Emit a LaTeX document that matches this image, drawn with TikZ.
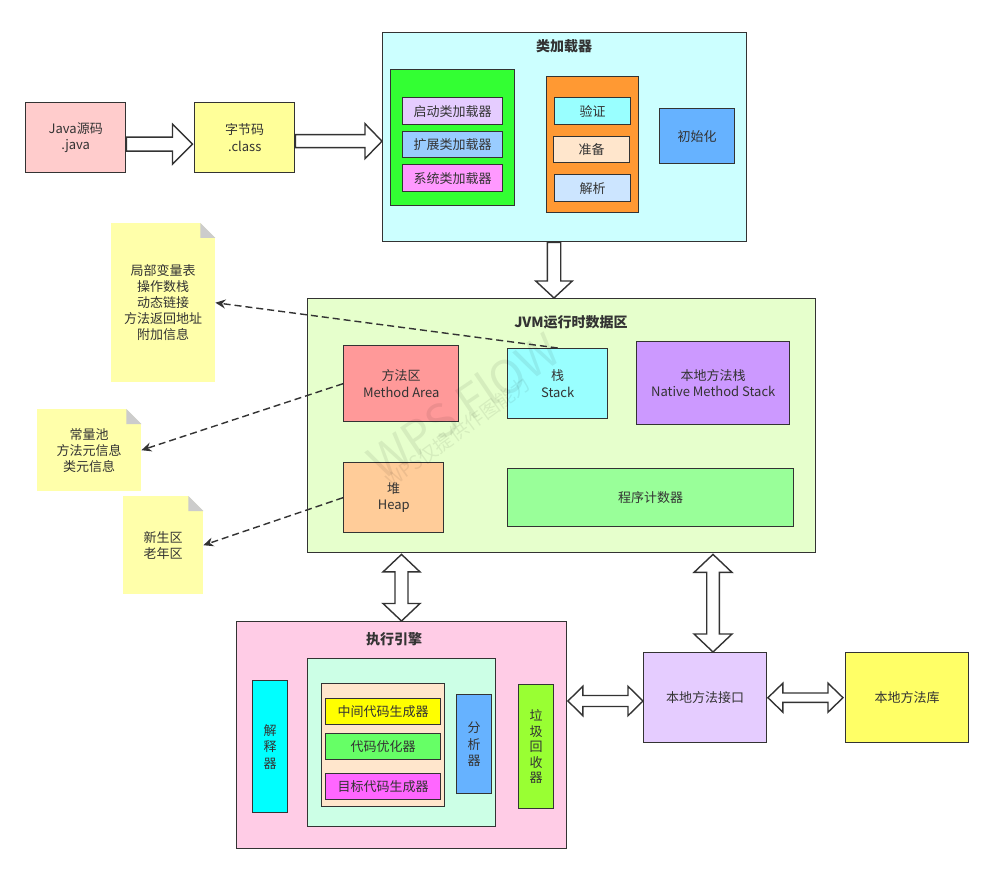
\documentclass[tikz,border=0pt]{standalone}
\usepackage{fontspec}
\setmainfont{Noto Sans CJK SC}
\usetikzlibrary{arrows.meta,calc}
\definecolor{txt}{HTML}{333333}
\definecolor{cJava}{HTML}{FFCCCC}
\definecolor{cByte}{HTML}{FFFF99}
\definecolor{cCL}{HTML}{CCFFFF}
\definecolor{cGreen}{HTML}{33FF33}
\definecolor{cBoot}{HTML}{E5CCFF}
\definecolor{cExt}{HTML}{99CCFF}
\definecolor{cSys}{HTML}{FF99FF}
\definecolor{cOrange}{HTML}{FF9933}
\definecolor{cVerify}{HTML}{99FFFF}
\definecolor{cPrep}{HTML}{FFE6CC}
\definecolor{cResolve}{HTML}{CCE5FF}
\definecolor{cInit}{HTML}{66B2FF}
\definecolor{cJVM}{HTML}{E6FFCC}
\definecolor{cMA}{HTML}{FF9999}
\definecolor{cStack}{HTML}{99FFFF}
\definecolor{cNMS}{HTML}{CC99FF}
\definecolor{cHeap}{HTML}{FFCC99}
\definecolor{cPC}{HTML}{99FF99}
\definecolor{cExec}{HTML}{FFCCE6}
\definecolor{cMint}{HTML}{CCFFE6}
\definecolor{cPeach}{HTML}{FFE6CC}
\definecolor{cMid}{HTML}{FFFF00}
\definecolor{cOpt}{HTML}{66FF66}
\definecolor{cTgt}{HTML}{FF66FF}
\definecolor{cAna}{HTML}{66B2FF}
\definecolor{cInterp}{HTML}{00FFFF}
\definecolor{cGC}{HTML}{99FF33}
\definecolor{cNI}{HTML}{E5CCFF}
\definecolor{cLib}{HTML}{FFFF66}
\definecolor{cNote}{HTML}{FFFFAA}
\definecolor{cFold}{HTML}{CCCCCC}
\tikzset{
  box/.style={draw=txt, line width=1.4pt, fill=#1, anchor=north west, inner sep=0pt,
    text=txt, font=\fontsize{13}{16.5}\selectfont, align=center},
  notebox/.style={fill=cNote, anchor=north west, inner sep=0pt,
    text=txt, font=\fontsize{13}{16}\selectfont, align=center},
  titletext/.style={text=txt, font=\fontsize{14}{16}\selectfont\bfseries, inner sep=0pt},
  barrow/.style={draw=txt, line width=1.4pt, fill=white, line join=miter},
  dasharrow/.style={draw=txt, line width=1.4pt, dash pattern=on 7pt off 4pt,
    -{Stealth[length=10pt,width=9pt]}},
  wmark/.style={text=black, text opacity=0.07, inner sep=0pt}
}
% horizontal single block arrow: start, end, shaft half, head half, head length
\newcommand\HArrowR[5]{%
  \draw[barrow] let \p1=(#1), \p2=(#2) in
    (\x1,\y1+#3) -- (\x2-#5,\y1+#3) -- (\x2-#5,\y1+#4) -- (\x2,\y1)
    -- (\x2-#5,\y1-#4) -- (\x2-#5,\y1-#3) -- (\x1,\y1-#3) -- cycle;}
% horizontal double block arrow
\newcommand\HArrowD[5]{%
  \draw[barrow] let \p1=(#1), \p2=(#2) in
    (\x1,\y1) -- (\x1+#5,\y1+#4) -- (\x1+#5,\y1+#3) -- (\x2-#5,\y1+#3)
    -- (\x2-#5,\y1+#4) -- (\x2,\y1) -- (\x2-#5,\y1-#4) -- (\x2-#5,\y1-#3)
    -- (\x1+#5,\y1-#3) -- (\x1+#5,\y1-#4) -- cycle;}
% vertical single block arrow (downwards)
\newcommand\VArrowDown[5]{%
  \draw[barrow] let \p1=(#1), \p2=(#2) in
    (\x1-#3,\y1) -- (\x1-#3,\y2+#5) -- (\x1-#4,\y2+#5) -- (\x1,\y2)
    -- (\x1+#4,\y2+#5) -- (\x1+#3,\y2+#5) -- (\x1+#3,\y1) -- cycle;}
% vertical double block arrow
\newcommand\VArrowD[5]{%
  \draw[barrow] let \p1=(#1), \p2=(#2) in
    (\x1,\y1) -- (\x1+#4,\y1-#5) -- (\x1+#3,\y1-#5) -- (\x1+#3,\y2+#5)
    -- (\x1+#4,\y2+#5) -- (\x1,\y2) -- (\x1-#4,\y2+#5) -- (\x1-#3,\y2+#5)
    -- (\x1-#3,\y1-#5) -- (\x1-#4,\y1-#5) -- cycle;}
% folded corner of a note
\newcommand\NoteFold[1]{%
  \fill[white] (#1.north east) -- ++(-15,0) -- ++(15,15) -- cycle;
  \fill[cFold] ($(#1.north east)+(-15,0)$) -- ++(0,15) -- ++(15,0) -- cycle;}

\begin{document}
\begin{tikzpicture}[x=1pt,y=-1pt]
\useasboundingbox[fill=white] (0,0) rectangle (993,874);

% ---------- source and bytecode ----------
\node[box=cJava, minimum width=100pt, minimum height=70pt] (java) at (25,102) {Java源码\\.java};
\node[box=cByte, minimum width=100pt, minimum height=70pt] (byte) at (194,102) {字节码\\.class};

% ---------- class loader ----------
\node[box=cCL, minimum width=364pt, minimum height=209pt] (cl) at (382,32) {};
\node[titletext] (clt) at (564,46) {类加载器};
\node[box=cGreen, minimum width=124pt, minimum height=136pt] (loaders) at (390,69) {};
\node[box=cBoot, minimum width=100pt, minimum height=27pt] (boot) at (402,97) {启动类加载器};
\node[box=cExt, minimum width=100pt, minimum height=26pt] (ext) at (402,131) {扩展类加载器};
\node[box=cSys, minimum width=100pt, minimum height=27pt] (sys) at (402,164) {系统类加载器};
\node[box=cOrange, minimum width=92pt, minimum height=136pt] (link) at (546,76) {};
\node[box=cVerify, minimum width=76pt, minimum height=27pt] (verify) at (554,97) {验证};
\node[box=cPrep, minimum width=76pt, minimum height=26pt] (prep) at (553,136) {准备};
\node[box=cResolve, minimum width=76pt, minimum height=27pt] (resolve) at (554,174) {解析};
\node[box=cInit, minimum width=75pt, minimum height=55pt] (init) at (659,108) {初始化};

% ---------- JVM runtime data area ----------
\node[box=cJVM, minimum width=508pt, minimum height=254pt] (jvm) at (307,298) {};
\node[titletext] (jvmt) at (571,322) {JVM运行时数据区};
\node[box=cMA, minimum width=115pt, minimum height=76pt] (ma) at (343,345) {方法区\\Method Area};
\node[box=cStack, minimum width=100pt, minimum height=70pt] (stack) at (507,348) {栈\\Stack};
\node[box=cNMS, minimum width=153pt, minimum height=83pt] (nms) at (636,341) {本地方法栈\\Native Method Stack};
\node[box=cHeap, minimum width=100pt, minimum height=70pt] (heap) at (343,462) {堆\\Heap};
\node[box=cPC, minimum width=286pt, minimum height=58pt] (pc) at (507,468) {程序计数器};

% ---------- notes ----------
\node[notebox, minimum width=104pt, minimum height=159pt] (note1) at (111,223)
  {局部变量表\\操作数栈\\动态链接\\方法返回地址\\附加信息};
\NoteFold{note1}
\node[notebox, minimum width=104pt, minimum height=82pt] (note2) at (37,409)
  {常量池\\方法元信息\\类元信息};
\NoteFold{note2}
\node[notebox, minimum width=80pt, minimum height=98pt] (note3) at (123,496)
  {新生区\\老年区};
\NoteFold{note3}

% ---------- execution engine ----------
\node[box=cExec, minimum width=330pt, minimum height=227pt] (exec) at (236,621) {};
\node[titletext] (exect) at (394,639) {执行引擎};
\node[box=cMint, minimum width=188pt, minimum height=168pt] (jit) at (307,658) {};
\node[box=cPeach, minimum width=123pt, minimum height=123pt] (comp) at (321,683) {};
\node[box=cMid, minimum width=115pt, minimum height=26pt] (mid) at (325,698) {中间代码生成器};
\node[box=cOpt, minimum width=115pt, minimum height=26pt] (opt) at (325,733) {代码优化器};
\node[box=cTgt, minimum width=115pt, minimum height=26pt] (tgt) at (325,773) {目标代码生成器};
\node[box=cAna, minimum width=35pt, minimum height=99pt] (ana) at (456,694) {分\\析\\器};
\node[box=cInterp, minimum width=35pt, minimum height=132pt] (interp) at (252,680) {解\\释\\器};
\node[box=cGC, minimum width=35pt, minimum height=124pt, font=\fontsize{13}{15.5}\selectfont] (gc) at (518,684) {垃\\圾\\回\\收\\器};

% ---------- native ----------
\node[box=cNI, minimum width=123pt, minimum height=90pt] (ni) at (643,652) {本地方法接口};
\node[box=cLib, minimum width=123pt, minimum height=90pt] (lib) at (845,652) {本地方法库};

% ---------- watermark ----------
\node[wmark, rotate=34, font=\fontsize{46}{50}\selectfont] (wm1) at (463,405) {WPS FlOW};
\node[wmark, rotate=36, font=\fontsize{19}{22}\selectfont] (wm2) at (458,432) {WPS仅提供作图能力};

% ---------- block arrows ----------
\HArrowR{$(java.east)+(0,6.5)$}{$(byte.west)+(-1.5,0)$}{7pt}{20pt}{20pt}
\HArrowR{$(byte.east)+(0,3.5)$}{cl.west}{6.5pt}{17.5pt}{17pt}
\VArrowDown{$(cl.south)+(-10.7,0)$}{jvm.north}{6.7pt}{18.3pt}{17pt}
\VArrowD{$(jvm.south west)+(94.5,1)$}{exec.north}{6.5pt}{18.5pt}{17.5pt}
\VArrowD{$(jvm.south west)+(406,1)$}{ni.north}{6.3pt}{19pt}{18pt}
\HArrowD{$(exec.north east)+(0.5,80)$}{ni.west}{5.5pt}{14.7pt}{15pt}
\HArrowD{$(ni.east)+(0.5,0)$}{$(lib.west)+(-2,0)$}{4.7pt}{14.5pt}{15pt}

% ---------- dashed links to notes ----------
\draw[dasharrow] (stack.north) -- (note1.east);
\draw[dasharrow] (ma.west) -- (note2.east);
\draw[dasharrow] (heap.west) -- (note3.east);
\end{tikzpicture}
\end{document}
